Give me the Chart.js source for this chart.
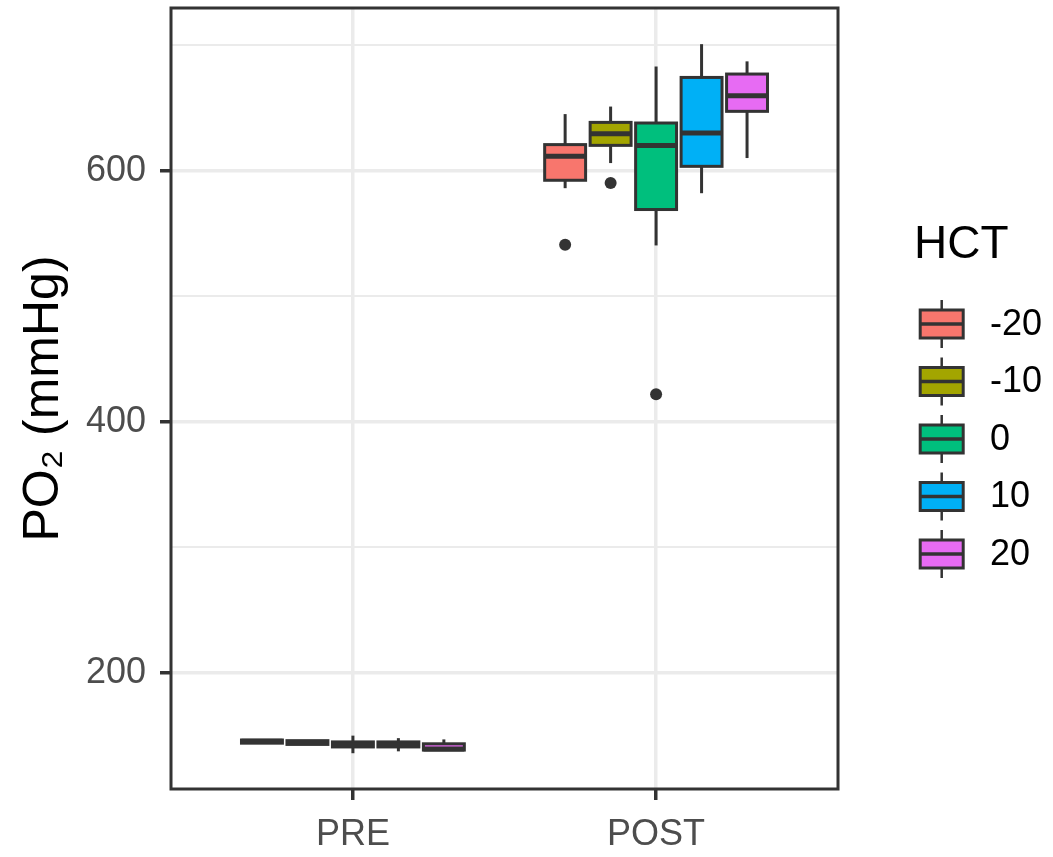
<!DOCTYPE html>
<html>
<head>
<meta charset="utf-8">
<script src="https://cdn.jsdelivr.net/npm/chart.js@4.4.1/dist/chart.umd.min.js"></script>
<style>
  html, body { margin: 0; padding: 0; background: #ffffff; }
  #wrap { width: 1053px; height: 857px; }
</style>
</head>
<body>
<div id="wrap"><canvas id="chart" width="1053" height="857"></canvas></div>
<script>
// Sampling time points and haematocrit groups
const groups = ['PRE', 'POST'];
const hctLevels = ['-20', '-10', '0', '10', '20'];
const hctColors = ['#F8766D', '#A3A500', '#00BF7D', '#00B0F6', '#E76BF3'];

// Box statistics, PO2 in mmHg. Rows follow hctLevels, columns follow groups.
const whiskerLow  = [[144.0, 586.0], [143.0, 606.0], [136.0, 540.4], [137.5, 582.0], [138.5, 610.0]];
const quartile1   = [[144.0, 592.3], [143.0, 620.1], [141.0, 569.0], [141.0, 603.4], [138.5, 647.2]];
const medians     = [[145.5, 611.4], [144.5, 629.4], [142.5, 619.9], [142.5, 630.0], [139.3, 659.6]];
const quartile3   = [[146.5, 620.7], [146.0, 638.4], [145.0, 637.9], [145.0, 674.2], [143.5, 676.9]];
const whiskerHigh = [[146.5, 645.0], [146.0, 651.0], [150.0, 682.9], [148.0, 700.7], [147.0, 687.0]];
const outliers    = [[[], [541.0]], [[], [590.2]], [[], [421.9]], [[], []], [[], []]];

// Axis ticks
const majorTicks = [200, 400, 600];
const minorTicks = [300, 500, 700];

const FONT = "'Liberation Sans', Arial, Helvetica, sans-serif";
const INK = '#333333';

const datasets = hctLevels.map((level, k) => ({
  label: level,
  data: groups.map((g, j) => ({ x: j + 1, y: [quartile1[k][j], quartile3[k][j]] })),
  backgroundColor: hctColors[k],
  borderWidth: 0,
  categoryPercentage: 0.75,
  barPercentage: 0.9
}));

// Whiskers, box outlines, medians and outliers drawn on the bar geometry
const boxPlotPlugin = {
  id: 'boxPlot',
  beforeDatasetsDraw(chart) {
    const { ctx } = chart;
    const ys = chart.scales.y;
    ctx.save();
    ctx.strokeStyle = INK;
    ctx.lineWidth = 3;
    chart.data.datasets.forEach((ds, k) => {
      chart.getDatasetMeta(k).data.forEach((bar, j) => {
        ctx.beginPath();
        ctx.moveTo(bar.x, ys.getPixelForValue(whiskerHigh[k][j]));
        ctx.lineTo(bar.x, ys.getPixelForValue(whiskerLow[k][j]));
        ctx.stroke();
      });
    });
    ctx.restore();
  },
  afterDatasetsDraw(chart) {
    const { ctx } = chart;
    const ys = chart.scales.y;
    ctx.save();
    chart.data.datasets.forEach((ds, k) => {
      chart.getDatasetMeta(k).data.forEach((bar, j) => {
        const left = bar.x - bar.width / 2;
        const top = ys.getPixelForValue(quartile3[k][j]);
        const bottom = ys.getPixelForValue(quartile1[k][j]);
        ctx.strokeStyle = INK;
        ctx.lineWidth = 3;
        ctx.strokeRect(left, top, bar.width, bottom - top);
        const m = ys.getPixelForValue(medians[k][j]);
        ctx.lineWidth = 5;
        ctx.beginPath();
        ctx.moveTo(left, m);
        ctx.lineTo(left + bar.width, m);
        ctx.stroke();
        ctx.fillStyle = INK;
        outliers[k][j].forEach(v => {
          ctx.beginPath();
          ctx.arc(bar.x, ys.getPixelForValue(v), 6, 0, Math.PI * 2);
          ctx.fill();
        });
      });
    });
    ctx.restore();
  },
  afterDraw(chart) {
    const { ctx, chartArea: a } = chart;
    ctx.save();
    // panel frame
    ctx.strokeStyle = INK;
    ctx.lineWidth = 3;
    ctx.strokeRect(a.left, a.top, a.right - a.left, a.bottom - a.top);

    // legend
    const keyX = 941.7, keyY0 = 324, keyStep = 57.5, boxW = 43, boxH = 28, whisk = 24;
    ctx.fillStyle = '#000000';
    ctx.font = '46px ' + FONT;
    ctx.textBaseline = 'middle';
    ctx.textAlign = 'left';
    ctx.fillText('HCT', 914, 245);
    ctx.font = '36px ' + FONT;
    chart.data.datasets.forEach((ds, k) => {
      const cy = keyY0 + k * keyStep;
      ctx.strokeStyle = INK;
      ctx.lineWidth = 2.5;
      ctx.beginPath();
      ctx.moveTo(keyX, cy - whisk);
      ctx.lineTo(keyX, cy + whisk);
      ctx.stroke();
      ctx.fillStyle = ds.backgroundColor;
      ctx.fillRect(keyX - boxW / 2, cy - boxH / 2, boxW, boxH);
      ctx.lineWidth = 3;
      ctx.strokeRect(keyX - boxW / 2, cy - boxH / 2, boxW, boxH);
      ctx.lineWidth = 3.5;
      ctx.beginPath();
      ctx.moveTo(keyX - boxW / 2, cy);
      ctx.lineTo(keyX + boxW / 2, cy);
      ctx.stroke();
      ctx.fillStyle = '#000000';
      ctx.fillText(ds.label, 990, cy + 1);
    });
    ctx.restore();
  }
};

new Chart(document.getElementById('chart'), {
  type: 'bar',
  data: { datasets },
  options: {
    responsive: false,
    animation: false,
    devicePixelRatio: 1,
    layout: { padding: { top: 8, right: 215, bottom: 0, left: 0 } },
    plugins: { legend: { display: false }, tooltip: { enabled: false } },
    scales: {
      x: {
        type: 'linear',
        min: 0.4,
        max: 2.6,
        offset: false,
        afterBuildTicks: s => { s.ticks = groups.map((g, i) => ({ value: i + 1 })); },
        afterFit: s => { s.height = 68; s.paddingLeft = 0; s.paddingRight = 0; },
        ticks: {
          callback: v => groups[v - 1] ?? '',
          autoSkip: false,
          maxRotation: 0,
          color: '#4D4D4D',
          font: { family: FONT, size: 36 },
          padding: 13
        },
        grid: { offset: false, color: '#EBEBEB', lineWidth: 3.5, tickColor: INK, tickLength: 11, tickWidth: 3.5 },
        border: { display: false }
      },
      y: {
        type: 'linear',
        min: 107.5,
        max: 729.5,
        afterBuildTicks: s => {
          s.ticks = majorTicks.concat(minorTicks).sort((a, b) => a - b).map(v => ({ value: v }));
        },
        afterFit: s => { s.width = 171; s.paddingTop = 0; s.paddingBottom = 0; },
        ticks: {
          callback: v => majorTicks.includes(v) ? String(v) : '',
          color: '#4D4D4D',
          font: { family: FONT, size: 36 },
          padding: 14
        },
        grid: {
          color: '#EBEBEB',
          lineWidth: c => majorTicks.includes(c.tick && c.tick.value) ? 3.5 : 2,
          tickColor: c => majorTicks.includes(c.tick && c.tick.value) ? INK : 'rgba(0,0,0,0)',
          tickLength: 11,
          tickWidth: 3.5
        },
        border: { display: false },
        title: {
          display: true,
          text: 'PO₂ (mmHg)',
          color: '#000000',
          font: { family: FONT, size: 50 },
          padding: { top: 14, bottom: 0 }
        }
      }
    }
  },
  plugins: [boxPlotPlugin]
});
</script>
</body>
</html>
